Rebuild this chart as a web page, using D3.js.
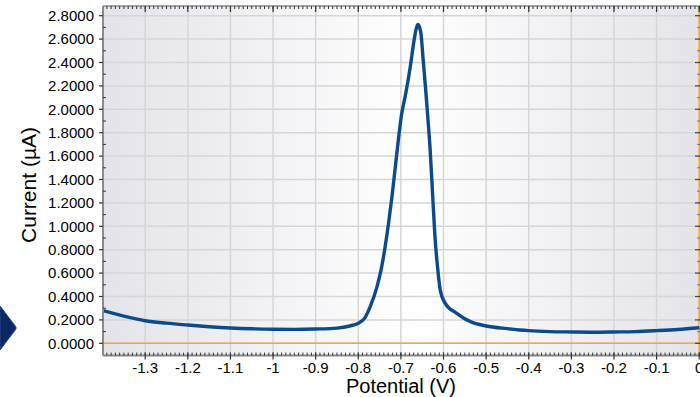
<!DOCTYPE html>
<html><head><meta charset="utf-8">
<script src="https://cdn.jsdelivr.net/npm/d3@7"></script>
<style>html,body{margin:0;padding:0;background:#fff;}svg{display:block;}</style>
</head><body>
<svg id="c" width="700" height="397"></svg>
<script>
const potential = [-1.399,-1.35,-1.3,-1.25,-1.2,-1.15,-1.1,-1.05,-1.0,-0.95,-0.9,-0.85,-0.82,-0.8,-0.785,-0.772,-0.756,-0.745,-0.737,-0.729,-0.721,-0.713,-0.706,-0.698,-0.69,-0.678,-0.669,-0.664,-0.660,-0.656,-0.653,-0.6477,-0.6418,-0.6364,-0.6313,-0.6249,-0.6195,-0.6141,-0.6077,-0.596,-0.569,-0.537,-0.5,-0.45,-0.4,-0.35,-0.3,-0.25,-0.2,-0.15,-0.1,-0.05,0];
const current = [0.28,0.232,0.193,0.172,0.156,0.142,0.131,0.124,0.12,0.119,0.122,0.13,0.148,0.172,0.215,0.313,0.484,0.655,0.826,1.026,1.253,1.51,1.738,1.966,2.108,2.364,2.592,2.69,2.726,2.70,2.65,2.42,2.165,1.908,1.652,1.225,0.883,0.655,0.456,0.342,0.256,0.185,0.148,0.125,0.108,0.1,0.097,0.095,0.097,0.1,0.108,0.118,0.133];
const xTicks = [-1.3,-1.2,-1.1,-1.0,-0.9,-0.8,-0.7,-0.6,-0.5,-0.4,-0.3,-0.2,-0.1,0];
const yTicks = [0,0.2,0.4,0.6,0.8,1.0,1.2,1.4,1.6,1.8,2.0,2.2,2.4,2.6,2.8];
const xTitle = "Potential (V)";
const yTitle = "Current (µA)";

const svg = d3.select("#c");
const L = 103, R = 700, T = 6, B = 355.6;
const x = d3.scaleLinear().domain([-1.4, 0]).range([102.6, 699.2]);
const y = d3.scaleLinear().domain([0, 2.8]).range([343.3, 15.7]);
const font = "'Liberation Sans', Arial, sans-serif";

const defs = svg.append("defs");
const g = defs.append("linearGradient").attr("id","bg").attr("x1","0%").attr("x2","100%").attr("y1","0%").attr("y2","0%");
g.append("stop").attr("offset","0%").attr("stop-color","#e3e3e9");
g.append("stop").attr("offset","52%").attr("stop-color","#ffffff");
g.append("stop").attr("offset","100%").attr("stop-color","#e3e3e9");
defs.append("clipPath").attr("id","clip").append("rect").attr("x",L).attr("y",T).attr("width",R-L).attr("height",B-T);

svg.append("rect").attr("x",L).attr("y",T).attr("width",R-L).attr("height",B-T).attr("fill","url(#bg)");

svg.append("g").selectAll("line").data(xTicks).join("line")
  .attr("x1",d=>x(d)).attr("x2",d=>x(d)).attr("y1",T).attr("y2",B)
  .attr("stroke","#d6d6d6").attr("stroke-width",1.5);
svg.append("g").selectAll("line").data(yTicks).join("line")
  .attr("x1",L).attr("x2",R).attr("y1",d=>y(d)).attr("y2",d=>y(d))
  .attr("stroke","#d6d6d6").attr("stroke-width",1.5);

svg.append("line").attr("x1",L).attr("x2",R).attr("y1",y(0)).attr("y2",y(0)).attr("stroke","#eeaa33").attr("stroke-width",1.5);
svg.append("line").attr("x1",x(0)).attr("x2",x(0)).attr("y1",T).attr("y2",B).attr("stroke","#eeaa33").attr("stroke-width",1.5);

const line = d3.line().x((d,i)=>x(potential[i])).y((d,i)=>y(current[i])).curve(d3.curveMonotoneX);
svg.append("path").datum(current).attr("clip-path","url(#clip)")
  .attr("d",line).attr("fill","none").attr("stroke","#0c4a8c").attr("stroke-width",3.4).attr("stroke-linejoin","round");

svg.append("line").attr("x1",L).attr("x2",L).attr("y1",T).attr("y2",B).attr("stroke","#8a8a8a").attr("stroke-width",2);
svg.append("line").attr("x1",L).attr("x2",R).attr("y1",B).attr("y2",B).attr("stroke","#8a8a8a").attr("stroke-width",2);
svg.append("line").attr("x1",L).attr("x2",R).attr("y1",T).attr("y2",T).attr("stroke","#8a8a8a").attr("stroke-width",1.5);

const xMinor = d3.range(-139, 1).map(v=>v/100).filter(v=>x(v)>=L && x(v)<=R);
svg.append("g").selectAll("line").data(xMinor).join("line")
  .attr("x1",d=>x(d)).attr("x2",d=>x(d)).attr("y1",T).attr("y2",T+3).attr("stroke","#333").attr("stroke-width",1);
svg.append("g").selectAll("line").data(xMinor).join("line")
  .attr("x1",d=>x(d)).attr("x2",d=>x(d)).attr("y1",B).attr("y2",B-3).attr("stroke","#333").attr("stroke-width",1);
svg.append("g").selectAll("line").data(xTicks).join("line")
  .attr("x1",d=>x(d)).attr("x2",d=>x(d)).attr("y1",T).attr("y2",T+6).attr("stroke","#333").attr("stroke-width",1.2);
svg.append("g").selectAll("line").data(xTicks).join("line")
  .attr("x1",d=>x(d)).attr("x2",d=>x(d)).attr("y1",B-3).attr("y2",B+4).attr("stroke","#333").attr("stroke-width",1.2);

const yMinor = d3.range(1, 29, 2).map(v=>v/10);
svg.append("g").selectAll("line").data(yMinor).join("line")
  .attr("x1",L).attr("x2",L+3).attr("y1",d=>y(d)).attr("y2",d=>y(d)).attr("stroke","#333").attr("stroke-width",1);
svg.append("g").selectAll("line").data(yTicks).join("line")
  .attr("x1",L-4).attr("x2",L).attr("y1",d=>y(d)).attr("y2",d=>y(d)).attr("stroke","#333").attr("stroke-width",1.2);
svg.append("g").selectAll("line").data(yTicks).join("line")
  .attr("x1",R-5).attr("x2",R).attr("y1",d=>y(d)).attr("y2",d=>y(d)).attr("stroke","#444").attr("stroke-width",1.2);
svg.append("g").selectAll("line").data(yMinor).join("line")
  .attr("x1",R-3).attr("x2",R).attr("y1",d=>y(d)).attr("y2",d=>y(d)).attr("stroke","#777").attr("stroke-width",1);

svg.append("g").selectAll("text").data(yTicks).join("text")
  .attr("x",94).attr("y",d=>y(d)).attr("dy","0.35em").attr("text-anchor","end")
  .attr("font-family",font).attr("font-size",15).attr("fill","#000")
  .text(d=>d3.format(".4f")(d));
svg.append("g").selectAll("text").data(xTicks).join("text")
  .attr("x",d=>x(d)).attr("y",372.5).attr("text-anchor","middle")
  .attr("font-family",font).attr("font-size",15).attr("fill","#000")
  .text(d=>String(+d.toFixed(1)));

svg.append("text").attr("x",401).attr("y",392.5).attr("text-anchor","middle")
  .attr("font-family",font).attr("font-size",20).attr("fill","#000").text(xTitle);
svg.append("text").attr("transform","translate(36,185) rotate(-90)").attr("text-anchor","middle")
  .attr("font-family",font).attr("font-size",21).attr("fill","#000").text(yTitle);

svg.append("path").attr("d","M0,306 L16,327 L16,329 L0,350 Z").attr("fill","#0c2662").attr("stroke","#2a4a8a").attr("stroke-width",1);
</script>
</body></html>
